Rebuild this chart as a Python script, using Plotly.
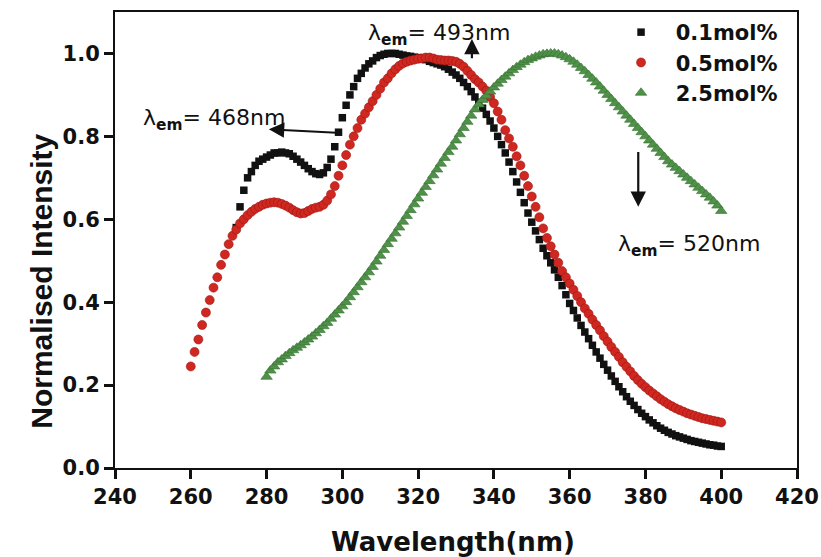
import plotly.graph_objects as go

# ---------------- data ----------------
wl_01 = list(range(272, 401))
int_01 = [0.58, 0.63, 0.67, 0.70, 0.715, 0.73, 0.74, 0.745, 0.75, 0.755,
          0.76, 0.76, 0.762, 0.76, 0.758, 0.752, 0.745, 0.738, 0.73, 0.722,
          0.715, 0.71, 0.708, 0.712, 0.725, 0.745, 0.775, 0.81, 0.845, 0.875,
          0.90, 0.92, 0.94, 0.952, 0.965, 0.975, 0.982, 0.99, 0.995, 0.998,
          1.0, 1.0, 1.0, 0.998, 0.996, 0.994, 0.993, 0.991, 0.99, 0.987,
          0.985, 0.981, 0.978, 0.975, 0.972, 0.968, 0.962, 0.955, 0.948, 0.94,
          0.93, 0.92, 0.908, 0.895, 0.882, 0.868, 0.853, 0.837, 0.82, 0.80,
          0.78, 0.76, 0.738, 0.715, 0.69, 0.665, 0.64, 0.615, 0.593, 0.572,
          0.551, 0.53, 0.512, 0.495, 0.478, 0.46, 0.44, 0.418, 0.397, 0.38,
          0.362, 0.344, 0.328, 0.312, 0.296, 0.28, 0.265, 0.25, 0.236, 0.222,
          0.209, 0.196, 0.184, 0.172, 0.161, 0.151, 0.141, 0.132, 0.124, 0.116,
          0.109, 0.102, 0.096, 0.091, 0.086, 0.082, 0.078, 0.075, 0.072, 0.069,
          0.066, 0.064, 0.062, 0.06, 0.058, 0.056, 0.055, 0.053, 0.052]

wl_05 = list(range(260, 401))
int_05 = [0.245, 0.28, 0.31, 0.345, 0.375, 0.405, 0.435, 0.46, 0.49, 0.515,
          0.54, 0.56, 0.575, 0.59, 0.60, 0.61, 0.618, 0.625, 0.63, 0.635,
          0.638, 0.64, 0.641, 0.64, 0.637, 0.633, 0.628, 0.622, 0.617, 0.614,
          0.615, 0.62, 0.625, 0.628, 0.63, 0.635, 0.645, 0.66, 0.68, 0.705,
          0.73, 0.755, 0.78, 0.80, 0.82, 0.84, 0.855, 0.87, 0.885, 0.90,
          0.915, 0.93, 0.94, 0.952, 0.962, 0.97, 0.976, 0.98, 0.983, 0.985,
          0.987, 0.988, 0.99, 0.99, 0.988, 0.985, 0.984, 0.983, 0.983, 0.982,
          0.98, 0.975, 0.968, 0.958, 0.948, 0.938, 0.93, 0.92, 0.91, 0.895,
          0.88, 0.86, 0.84, 0.815, 0.795, 0.775, 0.752, 0.73, 0.705, 0.68,
          0.655, 0.63, 0.605, 0.578, 0.555, 0.535, 0.515, 0.495, 0.475, 0.46,
          0.445, 0.43, 0.415, 0.40, 0.385, 0.372, 0.358, 0.345, 0.332, 0.318,
          0.305, 0.292, 0.28, 0.268, 0.255, 0.244, 0.233, 0.222, 0.212, 0.203,
          0.195, 0.187, 0.18, 0.173, 0.166, 0.16, 0.154, 0.149, 0.144, 0.14,
          0.136, 0.132, 0.129, 0.126, 0.123, 0.12, 0.118, 0.116, 0.114, 0.112,
          0.11]

wl_25 = list(range(280, 401))
int_25 = [0.22, 0.235, 0.245, 0.255, 0.262, 0.27, 0.277, 0.284, 0.29, 0.296,
          0.303, 0.31, 0.317, 0.325, 0.333, 0.342, 0.35, 0.36, 0.37, 0.38,
          0.39, 0.40, 0.412, 0.424, 0.436, 0.448, 0.46, 0.472, 0.485, 0.498,
          0.512, 0.526, 0.54, 0.553, 0.566, 0.58, 0.594, 0.608, 0.622, 0.636,
          0.65, 0.664, 0.678, 0.692, 0.706, 0.72, 0.734, 0.748, 0.762, 0.775,
          0.79, 0.805, 0.82, 0.835, 0.85, 0.865, 0.877, 0.888, 0.898, 0.908,
          0.918, 0.927, 0.936, 0.944, 0.952, 0.96, 0.967, 0.973, 0.979, 0.984,
          0.988, 0.992, 0.995, 0.998, 0.999, 1.0, 1.0, 0.998, 0.995, 0.991,
          0.986, 0.98, 0.973, 0.965, 0.957, 0.948, 0.939, 0.93, 0.92, 0.91,
          0.90, 0.89, 0.88, 0.87, 0.86, 0.85, 0.84, 0.83, 0.82, 0.81,
          0.80, 0.79, 0.78, 0.77, 0.76, 0.75, 0.74, 0.732, 0.724, 0.716,
          0.708, 0.70, 0.692, 0.684, 0.676, 0.668, 0.66, 0.652, 0.643, 0.633,
          0.62]

series_names = ["0.1mol%", "0.5mol%", "2.5mol%"]
x_ticks = [240, 260, 280, 300, 320, 340, 360, 380, 400, 420]
y_ticks = [0.0, 0.2, 0.4, 0.6, 0.8, 1.0]
y_tick_text = ["0.0", "0.2", "0.4", "0.6", "0.8", "1.0"]

# ---------------- figure ----------------
BOLD = "DejaVu Sans"
INK = "#111111"
PAD = "\u2002\u2009"  # spacing between legend symbol and label

fig = go.Figure()
fig.add_trace(go.Scatter(x=wl_01, y=int_01, mode="markers", name=PAD + series_names[0],
                         marker=dict(symbol="square", size=7.5, color=INK,
                                     line=dict(width=0))))
fig.add_trace(go.Scatter(x=wl_05, y=int_05, mode="markers", name=PAD + series_names[1],
                         marker=dict(symbol="circle", size=9, color="#d02820",
                                     line=dict(width=0.6, color="#9c1410"))))
fig.add_trace(go.Scatter(x=wl_25, y=int_25, mode="markers", name=PAD + series_names[2],
                         marker=dict(symbol="triangle-up", size=10, color="#4f9148",
                                     line=dict(width=0.6, color="#357030"))))

ann_font = dict(family="DejaVu Sans", size=22, color=INK)
arrow = dict(text="", showarrow=True, arrowhead=2, arrowsize=1.4, arrowwidth=2.2,
             arrowcolor=INK, xref="x", yref="y", axref="x", ayref="y")
annotations = [
    dict(x=325.6, y=1.046, xref="x", yref="y", showarrow=False,
         text="λ<sub><b>em</b></sub>= 493nm", font=ann_font),
    dict(x=266.0, y=0.84, xref="x", yref="y", showarrow=False,
         text="λ<sub><b>em</b></sub>= 468nm", font=ann_font),
    dict(x=391.5, y=0.536, xref="x", yref="y", showarrow=False,
         text="λ<sub><b>em</b></sub>= 520nm", font=ann_font),
    dict(x=334.2, y=1.035, ax=334.2, ay=0.985, **arrow),
    dict(x=280.6, y=0.817, ax=300.2, ay=0.808, **arrow),
    dict(x=378.1, y=0.63, ax=378.1, ay=0.766, **arrow),
    # axis titles
    dict(x=-0.136, y=0.41, xref="paper", yref="paper", showarrow=False, textangle=-90,
         text="Normalised Intensity",
         font=dict(family="Liberation Sans", size=30, color=INK, weight="bold")),
    dict(x=0.496, y=-0.162, xref="paper", yref="paper", showarrow=False,
         xanchor="center", yanchor="middle", text="Wavelength(nm)",
         font=dict(family=BOLD, size=26, color=INK, weight="bold")),
]

fig.update_layout(
    width=821, height=557,
    margin=dict(l=115, r=24, t=12, b=89),
    paper_bgcolor="white", plot_bgcolor="white",
    showlegend=True,
    legend=dict(x=0.742, y=1.0, xanchor="left", yanchor="top",
                bgcolor="rgba(0,0,0,0)", borderwidth=0,
                font=dict(family=BOLD, size=21, color=INK, weight="bold"),
                tracegroupgap=0),
    annotations=annotations,
)
fig.update_xaxes(range=[240, 420], tickvals=x_ticks, ticks="outside", ticklen=9, tickwidth=2.5,
                 tickcolor=INK, showline=True, linewidth=2, linecolor=INK,
                 mirror=True, showgrid=False, zeroline=False, automargin=False,
                 tickfont=dict(family=BOLD, size=21, color=INK, weight="bold"))
fig.update_yaxes(range=[0, 1.1], tickvals=y_ticks, ticktext=y_tick_text, ticks="outside",
                 ticklen=9, tickwidth=2.5, tickcolor=INK, showline=True, linewidth=2,
                 linecolor=INK, mirror=True, showgrid=False, zeroline=False, automargin=False,
                 tickfont=dict(family=BOLD, size=21, color=INK, weight="bold"))

fig.write_html("out.html")
